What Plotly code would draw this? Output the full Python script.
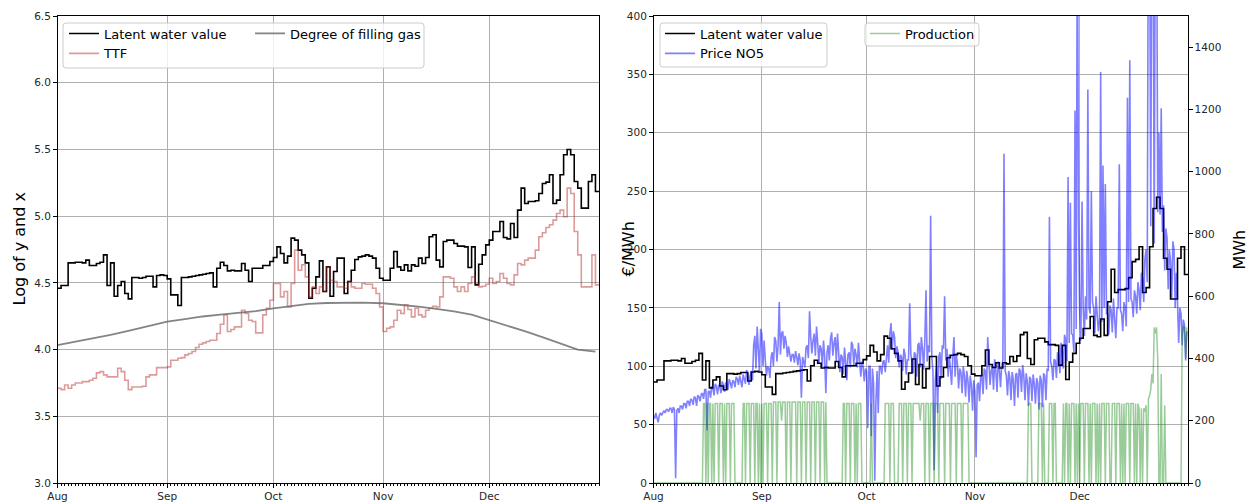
import numpy as np
import pandas as pd
import plotly.graph_objects as go

START = "2022-08-01"
END = "2023-01-01"
MONTH_LABELS = ["Aug", "Sep", "Oct", "Nov", "Dec"]

# Daily latent water value, log scale (left chart); right chart shows it in EUR/MWh
LATENT_LOG = [
    4.46, 4.48, 4.48, 4.65, 4.65, 4.655, 4.655, 4.65, 4.67, 4.63, 4.63, 4.645, 4.655, 4.71, 4.48, 4.65,
    4.40, 4.48, 4.51, 4.42, 4.38, 4.54, 4.54, 4.535, 4.54, 4.55, 4.55, 4.47, 4.555, 4.56, 4.555,
    4.53, 4.41, 4.41, 4.33, 4.54, 4.54, 4.545, 4.55, 4.555, 4.56, 4.565, 4.57, 4.575, 4.47, 4.61,
    4.655, 4.63, 4.59, 4.595, 4.59, 4.59, 4.645, 4.595, 4.51, 4.61, 4.61, 4.61, 4.63, 4.63, 4.66,
    4.69, 4.77, 4.72, 4.65, 4.70, 4.835, 4.82, 4.745, 4.71, 4.65, 4.385, 4.46, 4.545, 4.665, 4.435,
    4.62, 4.40, 4.585, 4.685, 4.685, 4.42, 4.51, 4.595, 4.675, 4.695, 4.70, 4.71, 4.70, 4.685, 4.61,
    4.535, 4.52, 4.52, 4.61, 4.735, 4.62, 4.595, 4.635, 4.59, 4.635, 4.625, 4.685, 4.645, 4.69, 4.845,
    4.86, 4.67, 4.62, 4.81, 4.82, 4.82, 4.795, 4.775, 4.775, 4.77, 4.615, 4.77, 4.485, 4.64, 4.71,
    4.785, 4.82, 4.885, 4.885, 4.96, 4.84, 4.83, 4.945, 4.84, 5.045, 5.21, 5.095, 5.11, 5.11, 5.115,
    5.17, 5.245, 5.255, 5.31, 5.095, 5.12, 5.31, 5.46, 5.50, 5.46, 5.26, 5.21, 5.06, 5.06, 5.26,
    5.31, 5.185,
]

# Daily TTF, log scale
TTF_LOG = [
    3.71, 3.70, 3.735, 3.71, 3.735, 3.75, 3.75, 3.76, 3.76, 3.77, 3.785, 3.825, 3.835, 3.81, 3.795,
    3.795, 3.795, 3.86, 3.835, 3.77, 3.70, 3.72, 3.72, 3.72, 3.725, 3.795, 3.81, 3.81, 3.865, 3.865,
    3.865, 3.87, 3.92, 3.92, 3.935, 3.94, 3.96, 3.97, 3.985, 4.015, 4.04, 4.05, 4.06, 4.07, 4.07,
    4.12, 4.19, 4.26, 4.135, 4.15, 4.17, 4.17, 4.295, 4.27, 4.22, 4.21, 4.125, 4.125, 4.26, 4.31,
    4.37, 4.495, 4.495, 4.395, 4.435, 4.32, 4.495, 4.745, 4.595, 4.635, 4.545, 4.395, 4.47, 4.42,
    4.47, 4.435, 4.62, 4.52, 4.51, 4.47, 4.47, 4.46, 4.51, 4.47, 4.46, 4.46, 4.495, 4.49, 4.49, 4.46,
    4.42, 4.32, 4.135, 4.16, 4.17, 4.22, 4.295, 4.27, 4.335, 4.30, 4.245, 4.31, 4.26, 4.245, 4.295,
    4.31, 4.325, 4.32, 4.395, 4.545, 4.545, 4.535, 4.47, 4.435, 4.47, 4.435, 4.495, 4.545, 4.495,
    4.47, 4.475, 4.49, 4.535, 4.495, 4.51, 4.57, 4.535, 4.495, 4.485, 4.56, 4.645, 4.635, 4.67,
    4.685, 4.685, 4.745, 4.845, 4.875, 4.915, 4.935, 4.97, 5.02, 5.045, 4.995, 5.21, 5.17, 4.885,
    4.71, 4.47, 4.47, 4.47, 4.71, 4.485,
]

# Degree of filling gas (log), read at these day offsets from Aug 1
GAS_DAY = [0, 5, 10, 15, 20, 25, 31, 36, 41, 46, 51, 56, 61, 66, 71, 76, 81, 86, 92, 97, 102,
           107, 112, 117, 122, 127, 132, 137, 142, 147, 152]
GAS_LOG = [4.034, 4.058, 4.085, 4.11, 4.14, 4.17, 4.209, 4.228, 4.248, 4.262, 4.275, 4.288, 4.309,
           4.328, 4.342, 4.349, 4.352, 4.352, 4.347, 4.335, 4.322, 4.305, 4.287, 4.262, 4.222,
           4.178, 4.138, 4.093, 4.045, 4.0, 3.985]

# Price NO5 (EUR/MWh), three readings per day (00h, 08h, 16h)
PRICE_NO5 = [
    [58, 55, 60], [57, 52, 58], [60, 58, 61], [62, 60, 63], [63, 61, 64], [64, 60, 65], [63, 4, 62],
    [64, 60, 66], [66, 63, 68], [68, 64, 70], [70, 66, 72], [71, 67, 74], [73, 66, 75], [74, 70, 76],
    [77, 72, 80], [80, 45, 78], [79, 73, 83], [81, 75, 85], [83, 76, 84], [82, 77, 87], [84, 78, 86],
    [85, 80, 89], [86, 81, 88], [87, 82, 91], [89, 84, 92], [88, 82, 93], [90, 85, 97], [89, 84, 92],
    [96, 88, 118], [126, 98, 134], [112, 95, 132],
    [128, 100, 122], [105, 92, 100], [98, 90, 108], [112, 100, 125], [122, 104, 118], [155, 110, 128],
    [130, 115, 126], [120, 108, 117], [112, 104, 110], [110, 103, 113], [108, 101, 111], [105, 73, 108],
    [104, 99, 116], [118, 107, 147], [125, 111, 122], [128, 109, 134], [120, 103, 118], [115, 100, 122],
    [108, 77, 112], [118, 105, 124], [129, 109, 120], [125, 104, 128], [112, 95, 110], [108, 93, 116],
    [104, 88, 110], [112, 99, 121], [118, 101, 115], [110, 99, 120], [105, 91, 104], [100, 87, 98],
    [96, 47, 100], [100, 40, 98], [85, 2, 70], [96, 60, 100], [100, 93, 104], [105, 95, 112],
    [118, 103, 128], [137, 114, 130], [125, 107, 117], [112, 99, 110], [108, 96, 115], [110, 93, 106],
    [105, 154, 110], [104, 94, 112], [110, 91, 118], [120, 99, 125], [115, 97, 122], [165, 104, 118],
    [112, 229, 108], [95, 11, 88], [100, 60, 108], [112, 89, 118], [115, 160, 105], [115, 91, 110],
    [100, 84, 108], [125, 91, 110], [102, 81, 98], [95, 77, 100], [92, 74, 96], [88, 69, 92],
    [84, 62, 88],
    [78, 22, 84], [86, 70, 92], [92, 76, 98], [96, 80, 125], [104, 84, 96], [100, 80, 106],
    [96, 78, 104], [98, 82, 100], [105, 282, 96], [92, 75, 96], [90, 71, 95], [88, 66, 93],
    [94, 73, 98], [96, 78, 101], [92, 71, 94], [87, 66, 91], [89, 70, 93], [85, 68, 90], [86, 63, 92],
    [88, 65, 94], [92, 71, 98], [96, 228, 104], [100, 88, 106], [105, 90, 112], [110, 94, 120],
    [114, 98, 127], [122, 104, 262], [120, 240, 128], [127, 112, 319], [132, 520, 226],
    [145, 122, 241], [150, 126, 160], [140, 337, 150], [145, 250, 155], [150, 128, 160],
    [145, 130, 140], [352, 138, 272], [150, 256, 145], [145, 127, 152], [148, 129, 158],
    [140, 124, 150], [150, 273, 148], [145, 130, 155], [150, 134, 330], [155, 362, 158],
    [155, 142, 165], [160, 145, 172], [165, 148, 180], [175, 155, 192], [200, 172, 520],
    [520, 220, 520], [480, 205, 520], [520, 232, 300], [230, 321, 215], [238, 182, 218],
    [210, 166, 200], [190, 158, 207], [200, 150, 180], [155, 120, 150], [145, 118, 140],
    [135, 105, 130],
]

# Production (MWh), three readings per day (00h, 08h, 16h)
PRODUCTION_MWH = [
    [0, 0, 0], [0, 0, 0], [0, 0, 0], [0, 0, 0], [0, 0, 0], [0, 0, 0], [0, 0, 0],
    [0, 0, 0], [0, 0, 0], [0, 0, 0], [0, 0, 0], [0, 0, 0], [0, 0, 0], [0, 0, 0],
    [0, 255, 255], [0, 255, 0], [255, 255, 0], [255, 0, 255], [255, 255, 0], [255, 255, 255],
    [0, 255, 0], [255, 255, 255], [0, 255, 255], [255, 0, 0], [0, 0, 0], [0, 0, 255],
    [255, 0, 255], [255, 255, 0], [255, 255, 255], [0, 255, 255], [0, 255, 0],
    [255, 0, 255], [255, 255, 0], [255, 255, 255], [0, 260, 260], [260, 0, 260], [260, 260, 200],
    [260, 260, 260], [0, 260, 260], [260, 0, 260], [260, 260, 260], [0, 260, 260], [260, 0, 260],
    [260, 260, 0], [260, 260, 260], [0, 260, 260], [260, 0, 260], [260, 260, 0], [260, 260, 260],
    [0, 260, 0], [0, 0, 0], [0, 0, 0], [0, 0, 0], [0, 0, 0], [0, 255, 255], [0, 255, 255],
    [255, 0, 255], [255, 255, 0], [255, 0, 255], [255, 255, 0], [0, 0, 0],
    [0, 0, 0], [0, 255, 0], [0, 0, 0], [0, 0, 0], [0, 0, 0], [0, 255, 255], [255, 255, 0],
    [255, 255, 255], [0, 0, 0], [0, 255, 255], [255, 0, 255], [255, 255, 0], [255, 255, 255],
    [0, 255, 255], [255, 255, 255], [255, 200, 255], [255, 255, 0], [255, 255, 255], [0, 255, 255],
    [255, 0, 255], [255, 255, 0], [255, 255, 255], [255, 0, 255], [255, 255, 255], [0, 255, 255],
    [255, 255, 0], [255, 255, 255], [255, 0, 255], [255, 255, 255], [255, 0, 0],
    [0, 0, 0], [0, 0, 0], [0, 0, 0], [0, 0, 0], [0, 0, 0], [0, 0, 0], [0, 0, 0], [0, 0, 0],
    [0, 0, 0], [0, 0, 0], [0, 0, 0], [0, 0, 0], [0, 0, 0], [0, 0, 0], [0, 0, 0], [0, 0, 0],
    [0, 255, 255], [255, 0, 0], [0, 0, 0], [0, 255, 255], [255, 0, 255], [0, 0, 0], [0, 255, 255],
    [255, 0, 255], [255, 0, 0], [0, 0, 0], [0, 255, 0], [255, 255, 0], [255, 0, 255], [255, 255, 0],
    [255, 0, 255],
    [0, 255, 255], [255, 0, 255], [255, 255, 0], [255, 0, 255], [255, 255, 0], [255, 0, 255],
    [0, 255, 255], [255, 0, 255], [255, 255, 0], [0, 255, 255], [255, 0, 255], [255, 255, 0],
    [255, 0, 255], [0, 255, 255], [255, 0, 255], [255, 255, 0], [255, 0, 255], [240, 0, 240],
    [0, 240, 230], [250, 0, 270], [280, 300, 350], [320, 500, 480], [500, 400, 0], [0, 350, 0],
    [0, 250, 0], [0, 0, 0], [0, 0, 0], [0, 0, 0], [0, 0, 0], [0, 480, 500], [500, 400, 500],
]

N_DAYS = len(LATENT_LOG)
assert len(TTF_LOG) == N_DAYS and len(PRICE_NO5) == N_DAYS and len(PRODUCTION_MWH) == N_DAYS

days = pd.date_range(START, periods=N_DAYS + 1, freq="D")
slots = pd.date_range(START, periods=N_DAYS * 3, freq="8h")
gas_dates = pd.Timestamp(START) + pd.to_timedelta(GAS_DAY, unit="D")
month_ticks = pd.date_range(START, periods=len(MONTH_LABELS), freq="MS")

latent_log = np.array(LATENT_LOG + [LATENT_LOG[-1]])
ttf_log = np.array(TTF_LOG + [TTF_LOG[-1]])
latent_eur = np.exp(latent_log)
price = np.array(PRICE_NO5, dtype=float).ravel()
prod = np.array(PRODUCTION_MWH, dtype=float).ravel()

W, H = 1253, 502
T, B = 16, 483  # plot area top / bottom (px)


def px(x):
    return x / W


def py(y):
    return (B - y) / (B - T)


FONT = "DejaVu Sans"
BLACK = "#000000"
TTF_COLOR = "rgba(178,34,34,0.45)"
GAS_COLOR = "rgba(110,110,110,0.85)"
PRICE_COLOR = "rgba(0,0,255,0.5)"
PROD_COLOR = "rgba(0,128,0,0.4)"

fig = go.Figure()

fig.add_trace(go.Scatter(x=days, y=latent_log, mode="lines", line=dict(color=BLACK, width=1.6, shape="hv"),
                         name="Latent water value", xaxis="x", yaxis="y", legend="legend"))
fig.add_trace(go.Scatter(x=days, y=ttf_log, mode="lines", line=dict(color=TTF_COLOR, width=1.6, shape="hv"),
                         name="TTF", xaxis="x", yaxis="y", legend="legend"))
fig.add_trace(go.Scatter(x=gas_dates, y=GAS_LOG, mode="lines", line=dict(color=GAS_COLOR, width=1.8),
                         name="Degree of filling gas", xaxis="x", yaxis="y", legend="legend2"))

fig.add_trace(go.Scatter(x=days, y=latent_eur, mode="lines", line=dict(color=BLACK, width=1.6, shape="hv"),
                         name="Latent water value", xaxis="x2", yaxis="y2", legend="legend3"))
fig.add_trace(go.Scatter(x=slots, y=price, mode="lines", line=dict(color=PRICE_COLOR, width=1.6),
                         name="Price NO5", xaxis="x2", yaxis="y2", legend="legend3"))
fig.add_trace(go.Scatter(x=slots, y=prod, mode="lines", line=dict(color=PROD_COLOR, width=1.5),
                         name="Production", xaxis="x2", yaxis="y3", legend="legend4"))

tickfont = dict(family=FONT, size=10.5, color="#262626")
grid = dict(showgrid=True, gridcolor="#b0b0b0", gridwidth=0.8)
frame = dict(showline=True, linecolor="#000000", linewidth=1, mirror=True,
             ticks="outside", ticklen=3.5, tickwidth=0.8, tickcolor="#000000",
             tickfont=tickfont, zeroline=False, automargin=False)
xcommon = dict(type="date", range=[START, END], tickvals=month_ticks, ticktext=MONTH_LABELS,
               minor=dict(ticks="outside", ticklen=2, tickwidth=0.6, tickcolor="#000000",
                          dtick=86400000, tick0=START, showgrid=False),
               **grid, **frame)

fig.update_layout(
    width=W, height=H, template="none",
    paper_bgcolor="white", plot_bgcolor="white",
    margin=dict(l=0, r=0, t=T, b=H - B, pad=0),
    font=dict(family=FONT, size=13, color="#000000"),
    xaxis=dict(domain=[px(57.5), px(599)], anchor="y", **xcommon),
    yaxis=dict(domain=[0, 1], anchor="x", range=[3.0, 6.5], dtick=0.5, tick0=3.0, tickformat=".1f",
               **grid, **frame),
    xaxis2=dict(domain=[px(653.5), px(1188)], anchor="y2", **xcommon),
    yaxis2=dict(domain=[0, 1], anchor="x2", range=[0, 400], dtick=50, tick0=0, **grid, **frame),
    yaxis3=dict(overlaying="y2", anchor="x2", side="right", range=[0, 1500], dtick=200, tick0=0,
                showgrid=False, showline=True, linecolor="#000000", linewidth=1,
                ticks="outside", ticklen=3.5, tickwidth=0.8, tickcolor="#000000",
                tickfont=tickfont, zeroline=False, automargin=False),
    showlegend=True,
)

leg_common = dict(bgcolor="rgba(0,0,0,0)", borderwidth=0, xanchor="left", yanchor="top",
                  font=dict(family=FONT, size=13, color="#000000"), tracegroupgap=0,
                  orientation="v")
fig.update_layout(
    legend=dict(x=px(64), y=py(18.5), **leg_common),
    legend2=dict(x=px(250), y=py(18.5), **leg_common),
    legend3=dict(x=px(660), y=py(18.5), **leg_common),
    legend4=dict(x=px(865), y=py(18.5), **leg_common),
)


def box(x0, y0, x1, y1, r=3):
    pts = (f"M {px(x0 + r)},{py(y0)} L {px(x1 - r)},{py(y0)} Q {px(x1)},{py(y0)} {px(x1)},{py(y0 + r)} "
           f"L {px(x1)},{py(y1 - r)} Q {px(x1)},{py(y1)} {px(x1 - r)},{py(y1)} "
           f"L {px(x0 + r)},{py(y1)} Q {px(x0)},{py(y1)} {px(x0)},{py(y1 - r)} "
           f"L {px(x0)},{py(y0 + r)} Q {px(x0)},{py(y0)} {px(x0 + r)},{py(y0)} Z")
    return dict(type="path", path=pts, xref="paper", yref="paper", layer="above",
                fillcolor="rgba(255,255,255,0.8)", line=dict(color="#cccccc", width=1))


fig.update_layout(shapes=[box(63, 23, 424, 68), box(660, 23, 827, 67), box(865, 23, 979, 46)])

title_font = dict(family=FONT, size=16, color="#000000")
fig.update_layout(annotations=[
    dict(text="Log of y and x", x=px(19), y=0.5, xref="paper", yref="paper", showarrow=False,
         textangle=-90, font=title_font, xanchor="center", yanchor="middle"),
    dict(text="€/MWh", x=px(628), y=0.5, xref="paper", yref="paper", showarrow=False,
         textangle=-90, font=title_font, xanchor="center", yanchor="middle"),
    dict(text="MWh", x=px(1239), y=0.5, xref="paper", yref="paper", showarrow=False,
         textangle=-90, font=title_font, xanchor="center", yanchor="middle"),
])

fig.write_html("out.html")
